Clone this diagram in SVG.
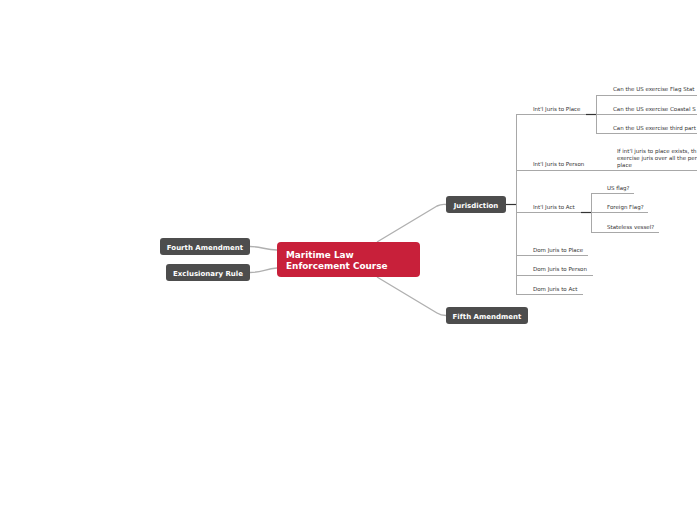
<svg xmlns="http://www.w3.org/2000/svg" width="697" height="520" viewBox="0 0 697 520">
<style>
.bg{fill:#ffffff}
.node rect{fill:#4d4d4d}
.node text{fill:#ffffff;font-family:"DejaVu Sans",Verdana,sans-serif;font-weight:bold;font-size:7px;text-anchor:middle}
.main rect{fill:#c8203a}
.main text{fill:#ffffff;font-family:"DejaVu Sans",Verdana,sans-serif;font-weight:bold;font-size:8.9px}
.curve{fill:none;stroke:#b0b0b0;stroke-width:1.4}
.ln{fill:none;stroke:#a8a8a8;stroke-width:1}
.dk{fill:none;stroke:#333333;stroke-width:1.2}
.lbl{fill:#333333;font-family:"DejaVu Sans",Verdana,sans-serif;font-size:5.5px}
</style>
<rect class="bg" x="0" y="0" width="697" height="520"/>
<g id="connectors">
<path class="curve" d="M377,242 L437,206 Q441,204 446,204.5"/>
<path class="curve" d="M377,277 L437,313 Q441,315.5 446,315.5"/>
<path class="curve" d="M250,246.5 C262,246.5 265,250 277,250"/>
<path class="curve" d="M250,272.5 C262,272.5 265,269 277,268"/>
<path class="dk" d="M506,204.5 H516.5"/>
<path class="ln" d="M516.5,114 V294.5"/>
<path class="ln" d="M516,114.5 H597"/>
<path class="ln" d="M516,170.5 H697"/>
<path class="ln" d="M516,212.5 H591"/>
<path class="ln" d="M516,255.5 H588"/>
<path class="ln" d="M516,275.5 H593"/>
<path class="ln" d="M516,294.5 H583"/>
<path class="dk" d="M586,114.5 H597"/>
<path class="dk" d="M581,212.5 H591.5"/>
<path class="ln" d="M596.5,95 V134"/>
<path class="ln" d="M596,95.5 H697"/>
<path class="ln" d="M596,114.5 H697"/>
<path class="ln" d="M596,133.5 H697"/>
<path class="ln" d="M591.5,193 V233"/>
<path class="ln" d="M591,193.5 H634"/>
<path class="ln" d="M591,212.5 H648"/>
<path class="ln" d="M591,232.5 H659"/>
</g>
<g id="main" class="main">
<rect x="277" y="242" width="143" height="35" rx="4"/>
<text x="286" y="258">Maritime Law</text>
<text x="286" y="269">Enforcement Course</text>
</g>
<g id="fourth" class="node">
<rect x="160" y="238" width="90" height="17" rx="3"/>
<text x="205" y="249.5">Fourth Amendment</text>
</g>
<g id="exclusionary" class="node">
<rect x="166" y="264" width="84" height="17" rx="3"/>
<text x="208" y="275.5">Exclusionary Rule</text>
</g>
<g id="jurisdiction" class="node">
<rect x="446" y="196" width="60" height="17" rx="3"/>
<text x="476" y="207.5">Jurisdiction</text>
</g>
<g id="fifth" class="node">
<rect x="446" y="307" width="82" height="17" rx="3"/>
<text x="487" y="318.5">Fifth Amendment</text>
</g>
<g id="intl-place"><text class="lbl" x="533" y="111">Int'l Juris to Place</text></g>
<g id="flag-state"><text class="lbl" x="613" y="91">Can the US exercise Flag Stat</text></g>
<g id="coastal-state"><text class="lbl" x="613" y="111">Can the US exercise Coastal S</text></g>
<g id="third-party"><text class="lbl" x="613" y="130">Can the US exercise third part</text></g>
<g id="intl-person"><text class="lbl" x="533" y="166">Int'l Juris to Person</text></g>
<g id="person-note">
<text class="lbl" x="617" y="153">If int'l juris to place exists, th</text>
<text class="lbl" x="617" y="160">exercise juris over all the per</text>
<text class="lbl" x="617" y="167">place</text>
</g>
<g id="intl-act"><text class="lbl" x="533" y="209">Int'l Juris to Act</text></g>
<g id="us-flag"><text class="lbl" x="607" y="190">US flag?</text></g>
<g id="foreign-flag"><text class="lbl" x="607" y="209">Foreign Flag?</text></g>
<g id="stateless"><text class="lbl" x="607" y="229">Stateless vessel?</text></g>
<g id="dom-place"><text class="lbl" x="533" y="252">Dom Juris to Place</text></g>
<g id="dom-person"><text class="lbl" x="533" y="271">Dom Juris to Person</text></g>
<g id="dom-act"><text class="lbl" x="533" y="291">Dom Juris to Act</text></g>
</svg>
